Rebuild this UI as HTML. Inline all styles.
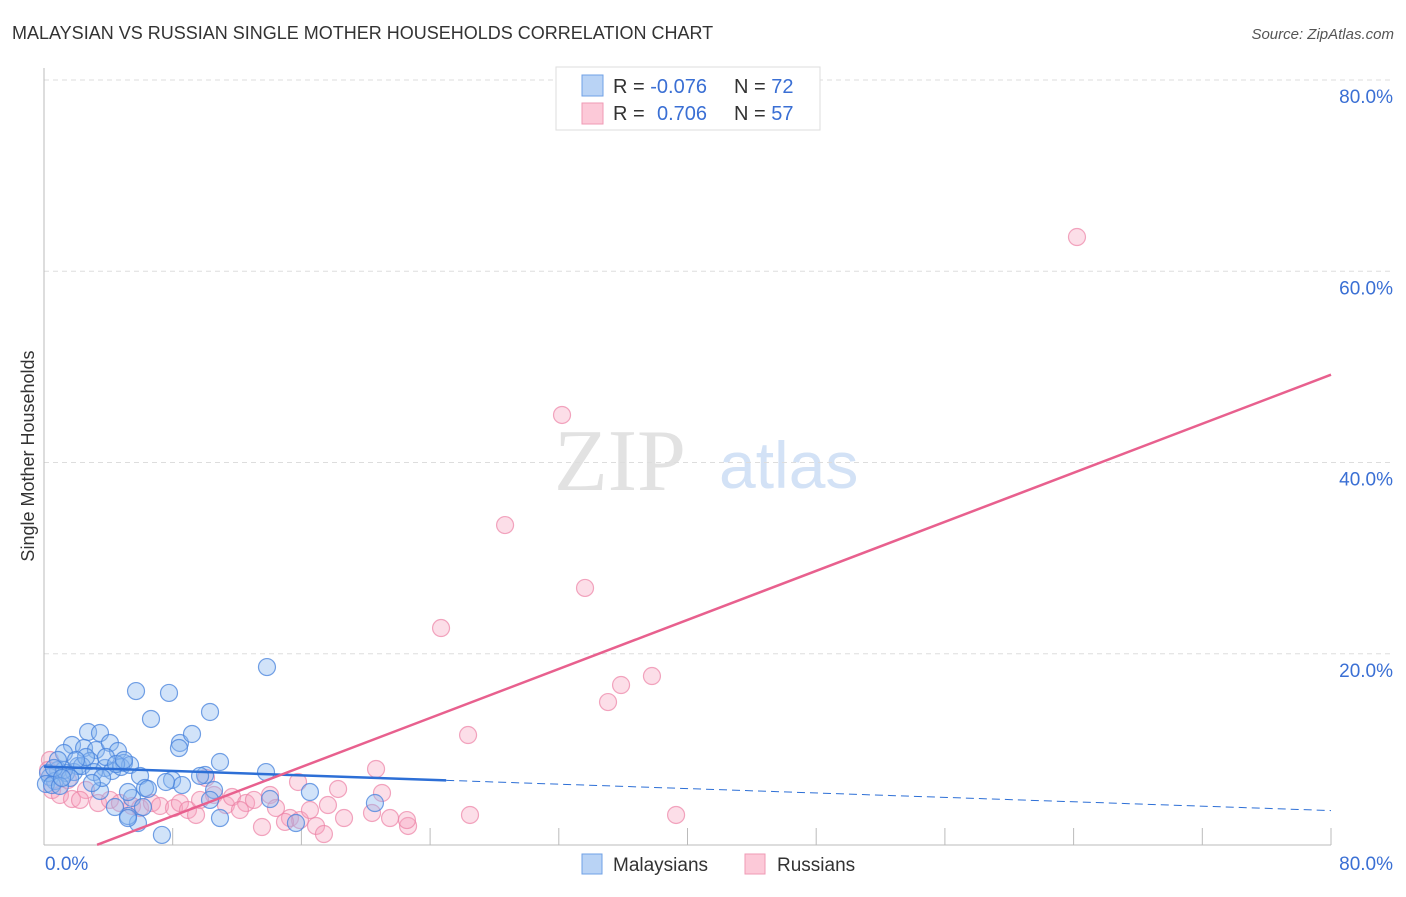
<!DOCTYPE html>
<html><head><meta charset="utf-8"><style>
body{margin:0;background:#fff;font-family:"Liberation Sans",sans-serif;}
svg text{font-family:"Liberation Sans",sans-serif;}
</style></head><body>
<svg id="c" width="1406" height="892">
<text x="12" y="39" font-size="18" fill="#333">MALAYSIAN VS RUSSIAN SINGLE MOTHER HOUSEHOLDS CORRELATION CHART</text>
<text x="1394" y="39" font-size="15" fill="#555" font-style="italic" text-anchor="end">Source: ZipAtlas.com</text>
<text transform="translate(34,456) rotate(-90)" font-size="18" fill="#333" text-anchor="middle">Single Mother Households</text>
<text x="554" y="490" font-size="88" fill="#e2e2e2" style="font-family:'Liberation Serif',serif">ZIP</text>
<text x="719" y="488" font-size="66" fill="#d3e2f6">atlas</text>
<g id="grid"></g><g id="pts"></g><g id="lines"></g>
<g>
<rect x="556" y="67" width="264" height="63" fill="#fff" stroke="#ddd"/>
<rect x="582" y="75" width="21" height="21" fill="#b9d3f5" stroke="#6fa0e6"/>
<rect x="582" y="103" width="21" height="21" fill="#fcc9d8" stroke="#ef9ab5"/>
<text x="613" y="93" font-size="20" fill="#333">R = <tspan fill="#3a6fd4">-0.076</tspan><tspan x="734">N = </tspan><tspan fill="#3a6fd4">72</tspan></text>
<text x="613" y="120" font-size="20" fill="#333">R = <tspan x="657" fill="#3a6fd4">0.706</tspan><tspan x="734">N = </tspan><tspan fill="#3a6fd4">57</tspan></text>
</g>
<g>
<rect x="582" y="854" width="20" height="20" fill="#b9d3f5" stroke="#6fa0e6"/>
<text x="613" y="871" font-size="19" fill="#333">Malaysians</text>
<rect x="745" y="854" width="20" height="20" fill="#fcc9d8" stroke="#ef9ab5"/>
<text x="777" y="871" font-size="19" fill="#333">Russians</text>
</g>
</svg>
<script>
const yTicks=[20,40,60,80];
const yTickLabels=["20.0%","40.0%","60.0%","80.0%"];
const xTicks=[8,16,24,32,40,48,56,64,72,80];
const xEndLabels=["0.0%","80.0%"];
const malaysiansPx=[[267,667],[136,691],[169,693],[151,719],[210,712],[180,743],[192,734],[179,748],[220,762],[88,732],[100,733],[72,745],[64,753],[84,748],[96,750],[110,743],[118,751],[124,763],[90,761],[78,766],[105,768],[58,770],[50,777],[55,781],[48,773],[66,773],[74,772],[82,766],[94,772],[112,771],[121,767],[130,765],[140,776],[145,788],[172,780],[205,775],[182,785],[214,790],[266,772],[270,799],[310,792],[296,823],[375,803],[162,835],[138,823],[128,816],[115,807],[100,791],[64,770],[70,778],[58,760],[46,784],[52,785],[60,786],[132,798],[143,807],[220,818],[148,789],[128,792],[210,800],[200,776],[128,818],[166,782],[106,757],[116,764],[86,757],[76,760],[102,778],[54,768],[62,778],[124,760],[92,783]];
const russiansPx=[[1077,237],[562,415],[505,525],[585,588],[441,628],[652,676],[621,685],[608,702],[468,735],[376,769],[338,789],[382,793],[298,782],[270,795],[50,760],[48,770],[52,790],[60,795],[72,799],[86,790],[98,803],[110,800],[120,803],[132,806],[140,808],[152,803],[160,806],[174,808],[180,803],[188,810],[196,815],[206,778],[214,795],[226,805],[232,797],[246,803],[254,800],[262,827],[276,808],[290,818],[300,820],[310,810],[316,826],[324,834],[328,805],[344,818],[372,813],[390,818],[408,826],[407,820],[470,815],[676,815],[240,810],[285,822],[68,780],[80,800],[200,800]];
const malaysiansX=malaysiansPx.map(p=>+((p[0]-44)/16.0875).toFixed(2));
const malaysiansY=malaysiansPx.map(p=>+((845-p[1])/9.5625).toFixed(2));
const russiansX=russiansPx.map(p=>+((p[0]-44)/16.0875).toFixed(2));
const russiansY=russiansPx.map(p=>+((845-p[1])/9.5625).toFixed(2));
const blueLine=[8.2,3.6];
const blueSolidEnd=25;
const pinkLine=[-2.1,0.641];
const pinkStart=3.3;
const X0=44,X1=1331,Y0=845,Y1=80;
const sx=v=>X0+v/80*(X1-X0), sy=v=>Y0-v/80*(Y0-Y1);
const NS="http://www.w3.org/2000/svg";
function mk(t,a,p){const e=document.createElementNS(NS,t);for(const k in a)e.setAttribute(k,a[k]);p.appendChild(e);return e;}
const svg=document.getElementById('c'),grid=document.getElementById('grid'),pts=document.getElementById('pts'),lines=document.getElementById('lines');
yTicks.forEach((t,i)=>{
 const l=mk('line',{x1:X0,x2:1394,y1:sy(t),y2:sy(t),stroke:'#ddd','stroke-dasharray':'5,4'},grid);
 
 
 const tx=mk('text',{x:1393,y:sy(t)+23,'font-size':19,fill:'#3a6fd4','text-anchor':'end'},grid);
 tx.textContent=yTickLabels[i];
 
 
});
const ax=mk('line',{x1:X0,x2:X0,y1:68,y2:Y0,stroke:'#bbb'},grid);


const bx=mk('line',{x1:X0,x2:X1,y1:Y0,y2:Y0,stroke:'#bbb'},grid);


xTicks.forEach(t=>{
 const l=mk('line',{x1:sx(t),x2:sx(t),y1:Y0-17,y2:Y0,stroke:'#bbb'},grid);
 
 
});
[[X0+1,'start'],[1393,'end']].forEach((p,i)=>{
 const tx=mk('text',{x:p[0],y:870,'font-size':19,fill:'#3a6fd4','text-anchor':p[1]},grid);
 tx.textContent=xEndLabels[i];
 
 
});
russiansX.forEach((x,i)=>{
 const c=mk('circle',{cx:sx(x),cy:sy(russiansY[i]),r:8.5,fill:'rgba(247,160,188,0.35)',stroke:'rgba(236,130,165,0.7)','stroke-width':1.2},pts);
 
 
});
malaysiansX.forEach((x,i)=>{
 const c=mk('circle',{cx:sx(x),cy:sy(malaysiansY[i]),r:8.5,fill:'rgba(140,185,240,0.4)',stroke:'rgba(70,130,220,0.75)','stroke-width':1.2},pts);
 
 
});
const by=x=>blueLine[0]+(blueLine[1]-blueLine[0])*x/80;
const b1=mk('line',{x1:sx(0),y1:sy(by(0)),x2:sx(blueSolidEnd),y2:sy(by(blueSolidEnd)),stroke:'#2d6fd6','stroke-width':2.5},lines);


const b2=mk('line',{x1:sx(blueSolidEnd),y1:sy(by(blueSolidEnd)),x2:sx(80),y2:sy(by(80)),stroke:'#2d6fd6','stroke-width':1,'stroke-dasharray':'8,5'},lines);


const py=x=>pinkLine[0]+pinkLine[1]*x;
const p1=mk('line',{x1:sx(pinkStart),y1:sy(py(pinkStart)),x2:sx(80),y2:sy(py(80)),stroke:'#e8608e','stroke-width':2.5},lines);


</script>
</body></html>
